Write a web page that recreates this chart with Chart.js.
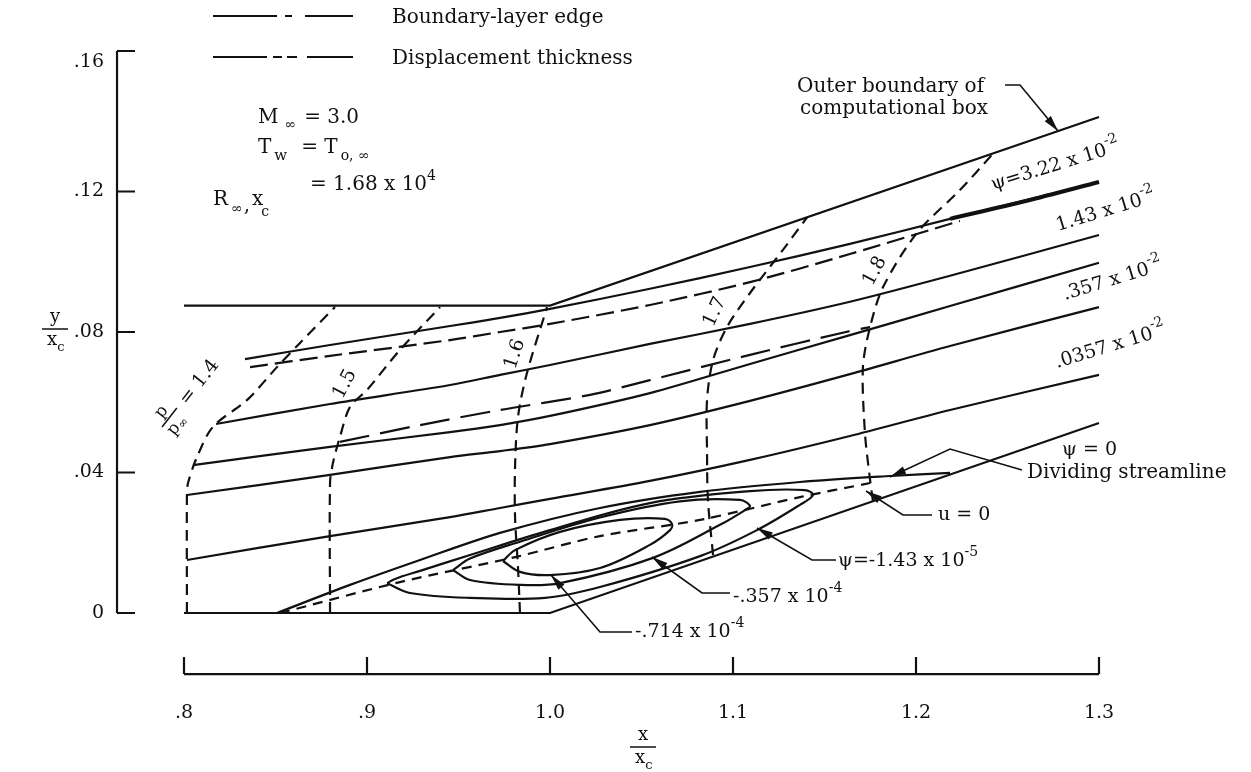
<!DOCTYPE html>
<html>
<head>
<meta charset="utf-8">
<title>Separated flow over a compression ramp</title>
<script src="https://cdn.jsdelivr.net/npm/chart.js@4.4.0/dist/chart.umd.min.js"></script>
<style>
  body { margin: 0; background: #fff; }
  #wrap { width: 1251px; height: 772px; }
</style>
</head>
<body>
<div id="wrap"><canvas id="flow-chart" width="1251" height="772"></canvas></div>
<script>
// ---- flow field, coordinates are (x/xc, y/xc) ----
const outerBoundary = [[0.8, 0.0875], [1.0, 0.0875], [1.3, 0.1412]];
const wallLine = [[0.8, 0], [1.0, 0], [1.3, 0.0541]];

// streamlines outside the bubble, from the top down
const psi322 = [[0.8333, 0.0723], [0.8798, 0.0763], [0.9454, 0.0817], [0.9727, 0.0840], [1.0, 0.0866], [1.0546, 0.0923], [1.1093, 0.0985], [1.1639, 0.1051], [1.2186, 0.1122], [1.30, 0.1227]];
const psi143 = [[0.8175, 0.0538], [0.8798, 0.0595], [0.9454, 0.0649], [0.9727, 0.0678], [1.0, 0.0706], [1.0546, 0.0766], [1.1093, 0.0823], [1.1639, 0.0886], [1.2186, 0.0960], [1.30, 0.1076]];
const psiMid = [[0.8049, 0.0421], [0.8798, 0.0473], [0.9454, 0.0515], [0.9727, 0.0535], [1.0, 0.0561], [1.0546, 0.0626], [1.1093, 0.0709], [1.1639, 0.0791], [1.2186, 0.0874], [1.30, 0.0997]];
const psi0357 = [[0.8016, 0.0336], [0.8798, 0.0393], [0.9454, 0.0444], [0.9727, 0.0461], [1.0, 0.0481], [1.0546, 0.0535], [1.1093, 0.0604], [1.1639, 0.0680], [1.2186, 0.0760], [1.30, 0.0871]];
const psi00357 = [[0.8016, 0.0151], [0.8798, 0.0219], [0.9454, 0.0273], [0.9727, 0.0299], [1.0, 0.0325], [1.0546, 0.0376], [1.1093, 0.0436], [1.1639, 0.0504], [1.2186, 0.0578], [1.30, 0.0678]];
const dividingStreamline = [[0.8508, 0], [0.8907, 0.0080], [0.929, 0.0151], [0.9727, 0.0228], [1.0273, 0.0299], [1.082, 0.0345], [1.1366, 0.0373], [1.1858, 0.0390], [1.2186, 0.0399]];

// boundary-layer edge and displacement thickness
const blEdge = [[0.8361, 0.0700], [0.8798, 0.0732], [0.9454, 0.0777], [0.9727, 0.0800], [1.0, 0.0823], [1.0546, 0.0877], [1.1093, 0.0942], [1.1639, 0.1022], [1.224, 0.1116]];
const blEdgeMerged = [[1.2186, 0.1122], [1.26, 0.1173], [1.30, 0.1227]];
const dispThickness = [[0.8852, 0.0487], [0.929, 0.0535], [0.9727, 0.0578], [1.0219, 0.0621], [1.0546, 0.0663], [1.1093, 0.0735], [1.1617, 0.0800], [1.1749, 0.0814]];

// reversed-flow region
const uZero = [[0.8525, 0], [0.918, 0.0088], [0.9809, 0.0159], [1.0273, 0.0219], [1.082, 0.0265], [1.1366, 0.0330], [1.1749, 0.0370]];
const bubble143 = [[0.911, 0.0085], [0.9235, 0.0057], [0.9563, 0.0043], [0.9973, 0.0043], [1.0273, 0.0074], [1.082, 0.0162], [1.1131, 0.0236], [1.1366, 0.0308], [1.1437, 0.0336], [1.1393, 0.0350], [1.1093, 0.0347], [1.0546, 0.0313], [1.0, 0.0236], [0.9563, 0.0165], [0.929, 0.0120], [0.9153, 0.0097], [0.911, 0.0085]];
const bubble357 = [[0.947, 0.0122], [0.9563, 0.0094], [0.9836, 0.0080], [1.0055, 0.0085], [1.0563, 0.0157], [1.0929, 0.0251], [1.1066, 0.0293], [1.1093, 0.0305], [1.1038, 0.0322], [1.071, 0.0318], [1.0273, 0.0272], [0.9836, 0.0203], [0.9563, 0.0155], [0.947, 0.0122]];
const bubble714 = [[0.9743, 0.0148], [0.9836, 0.0117], [1.0, 0.0108], [1.0273, 0.0128], [1.0546, 0.0194], [1.0656, 0.0236], [1.0667, 0.0253], [1.0628, 0.0268], [1.0383, 0.0265], [1.0055, 0.0231], [0.9809, 0.0179], [0.9743, 0.0148]];

// pressure ratio contours p/p_inf
const pr14 = [[0.8016, 0], [0.8016, 0.0336], [0.8022, 0.0370], [0.8071, 0.0444], [0.8158, 0.0530], [0.8344, 0.0606], [0.8508, 0.0700], [0.8634, 0.0769], [0.8825, 0.0871]];
const pr15 = [[0.8798, 0], [0.8798, 0.0370], [0.8814, 0.0427], [0.8852, 0.0501], [0.8907, 0.0587], [0.9000, 0.0635], [0.9180, 0.0749], [0.9399, 0.0871]];
const pr16 = [[0.9836, 0], [0.9825, 0.0131], [0.9809, 0.0273], [0.9809, 0.0416], [0.9825, 0.0558], [0.9874, 0.0683], [0.9984, 0.0871]];
const pr17 = [[1.0891, 0.0165], [1.0863, 0.0322], [1.0858, 0.0464], [1.0858, 0.0606], [1.0891, 0.0720], [1.0967, 0.0814], [1.1093, 0.0911], [1.1273, 0.1034], [1.1404, 0.1126]];
const pr18 = [[1.1765, 0.0318], [1.1749, 0.0379], [1.1721, 0.0513], [1.1710, 0.0700], [1.1749, 0.0814], [1.1820, 0.0928], [1.2005, 0.1082], [1.2240, 0.1204], [1.2421, 0.1308]];

const xTicks = [0.8, 0.9, 1.0, 1.1, 1.2, 1.3];
const xTickLabels = ['.8', '.9', '1.0', '1.1', '1.2', '1.3'];
const yTicks = [0, 0.04, 0.08, 0.12, 0.16];
const yTickLabels = ['0', '.04', '.08', '.12', '.16'];

const SERIF = '"DejaVu Serif", "Liberation Serif", serif';
const INK = '#111';

function line(points, extra) {
	return Object.assign({
		data: points.map(p => ({ x: p[0], y: p[1] })),
		showLine: true,
		borderColor: INK,
		borderWidth: 2.2,
		pointRadius: 0,
		tension: 0,
		fill: false,
		clip: false
	}, extra || {});
}

const datasets = [
	line(outerBoundary),
	line(wallLine),
	line(psi322, { tension: 0.3 }),
	line(psi143, { tension: 0.3 }),
	line(psiMid, { tension: 0.3 }),
	line(psi0357, { tension: 0.3 }),
	line(psi00357, { tension: 0.3 }),
	line(dividingStreamline, { tension: 0.3 }),
	line(blEdge, { tension: 0.3, borderDash: [18, 7] }),
	line(blEdgeMerged, { tension: 0.3, borderWidth: 4 }),
	line(dispThickness, { tension: 0.3, borderDash: [30, 11] }),
	line(uZero, { tension: 0.3, borderDash: [10, 7] }),
	line(bubble143, { tension: 0.35 }),
	line(bubble357, { tension: 0.35 }),
	line(bubble714, { tension: 0.35 }),
	line(pr14, { tension: 0.3, borderDash: [11, 7] }),
	line(pr15, { tension: 0.3, borderDash: [11, 7] }),
	line(pr16, { tension: 0.3, borderDash: [11, 7] }),
	line(pr17, { tension: 0.3, borderDash: [11, 7] }),
	line(pr18, { tension: 0.3, borderDash: [11, 7] })
];

// text made of runs (for sub/superscripts), optionally rotated
function runs(ctx, x, y, rot, parts) {
	ctx.save();
	ctx.translate(x, y);
	ctx.rotate(rot * Math.PI / 180);
	ctx.textAlign = 'left';
	ctx.textBaseline = 'alphabetic';
	let cx = 0;
	parts.forEach(p => {
		ctx.font = (p.size || 20) + 'px ' + SERIF;
		cx += (p.dx || 0);
		ctx.fillText(p.t, cx, p.dy || 0);
		cx += ctx.measureText(p.t).width;
	});
	ctx.restore();
}

function leader(ctx, pts) {
	ctx.beginPath();
	ctx.moveTo(pts[0][0], pts[0][1]);
	for (let i = 1; i < pts.length; i++) ctx.lineTo(pts[i][0], pts[i][1]);
	ctx.lineWidth = 1.6;
	ctx.stroke();
	// arrow head at the last point
	const [x1, y1] = pts[pts.length - 2], [x2, y2] = pts[pts.length - 1];
	const a = Math.atan2(y2 - y1, x2 - x1);
	ctx.beginPath();
	ctx.moveTo(x2, y2);
	ctx.lineTo(x2 - 16 * Math.cos(a) + 4 * Math.sin(a), y2 - 16 * Math.sin(a) - 4 * Math.cos(a));
	ctx.lineTo(x2 - 16 * Math.cos(a) - 4 * Math.sin(a), y2 - 16 * Math.sin(a) + 4 * Math.cos(a));
	ctx.closePath();
	ctx.fill();
}

function segs(ctx, y, list) {
	ctx.beginPath();
	list.forEach(s => { ctx.moveTo(s[0], y); ctx.lineTo(s[1], y); });
	ctx.lineWidth = 2.2;
	ctx.stroke();
}

function fraction(ctx, cx, top, num, den, sub) {
	ctx.font = '18px ' + SERIF;
	ctx.textAlign = 'center';
	ctx.fillText(num, cx, top);
	ctx.beginPath();
	ctx.moveTo(cx - 13, top + 7);
	ctx.lineTo(cx + 13, top + 7);
	ctx.lineWidth = 1.5;
	ctx.stroke();
	ctx.fillText(den, cx - 3, top + 23);
	ctx.font = '13px ' + SERIF;
	ctx.fillText(sub, cx + 6, top + 29);
	ctx.textAlign = 'left';
}

const paperPlugin = {
	id: 'paperLayout',
	afterDatasetsDraw(chart) {
		const ctx = chart.ctx;
		const xs = chart.scales.x, ys = chart.scales.y;
		ctx.save();
		ctx.strokeStyle = INK;
		ctx.fillStyle = INK;
		ctx.lineCap = 'butt';

		// y axis, offset to the left of the field
		const ax = xs.getPixelForValue(0.7634);
		ctx.lineWidth = 2.2;
		ctx.beginPath();
		ctx.moveTo(ax, ys.getPixelForValue(0.16));
		ctx.lineTo(ax, ys.getPixelForValue(0));
		yTicks.forEach(v => {
			const py = ys.getPixelForValue(v);
			ctx.moveTo(ax, py);
			ctx.lineTo(ax + 18, py);
		});
		ctx.stroke();
		ctx.font = '19px ' + SERIF;
		ctx.textAlign = 'right';
		ctx.textBaseline = 'middle';
		yTicks.forEach((v, i) => {
			const py = ys.getPixelForValue(v) + (v === 0.16 ? 11 : 0);
			ctx.fillText(yTickLabels[i], ax - 13, py);
		});

		// x axis, drawn below the wall
		const ay = ys.getPixelForValue(-0.0174);
		ctx.beginPath();
		ctx.moveTo(xs.getPixelForValue(0.8), ay);
		ctx.lineTo(xs.getPixelForValue(1.3), ay);
		xTicks.forEach(v => {
			const px = xs.getPixelForValue(v);
			ctx.moveTo(px, ay);
			ctx.lineTo(px, ay - 17);
		});
		ctx.stroke();
		ctx.textAlign = 'center';
		ctx.textBaseline = 'alphabetic';
		xTicks.forEach((v, i) => ctx.fillText(xTickLabels[i], xs.getPixelForValue(v), 718));

		// axis titles
		ctx.textBaseline = 'alphabetic';
		fraction(ctx, 643, 740, 'x', 'x', 'c');
		fraction(ctx, 55, 322, 'y', 'x', 'c');

		// key
		segs(ctx, 16, [[213, 277], [285, 292], [305, 353]]);
		segs(ctx, 57, [[213, 267], [273, 282], [287, 297], [307, 353]]);
		runs(ctx, 392, 23, 0, [{ t: 'Boundary-layer edge' }]);
		runs(ctx, 392, 64, 0, [{ t: 'Displacement thickness' }]);

		// flow conditions
		runs(ctx, 258, 123, 0, [{ t: 'M' }, { t: '∞', size: 14, dx: 6, dy: 6 }, { t: '= 3.0', dx: 8 }]);
		runs(ctx, 258, 153, 0, [{ t: 'T' }, { t: 'w', size: 15, dx: 3, dy: 7 }, { t: '= T', dx: 14 }, { t: 'o, ∞', size: 14, dx: 3, dy: 7 }]);
		runs(ctx, 213, 205, 0, [{ t: 'R' }, { t: '∞', size: 14, dx: 3, dy: 8 }, { t: ',', dx: 1, dy: 6 }, { t: 'x', dx: 2 }, { t: 'c', size: 14, dx: -2, dy: 11 }]);
		runs(ctx, 310, 190, 0, [{ t: '= 1.68 x 10' }, { t: '4', size: 14, dy: -10 }]);

		// pressure ratio labels
		ctx.save();
		ctx.translate(166, 430);
		ctx.rotate(-52 * Math.PI / 180);
		ctx.font = '17px ' + SERIF;
		ctx.fillText('p', 6, -10);
		ctx.beginPath();
		ctx.moveTo(0, -5);
		ctx.lineTo(24, -5);
		ctx.lineWidth = 1.5;
		ctx.stroke();
		ctx.fillText('p', 0, 10);
		ctx.font = '12px ' + SERIF;
		ctx.fillText('∞', 11, 13);
		ctx.font = '19px ' + SERIF;
		ctx.fillText('= 1.4', 32, 2);
		ctx.restore();

		[['1.5', 345, 384, -62], ['1.6', 515, 354, -72], ['1.7', 715, 312, -65], ['1.8', 875, 271, -62]].forEach(l => {
			ctx.save();
			ctx.translate(l[1], l[2]);
			ctx.rotate(l[3] * Math.PI / 180);
			ctx.font = '19px ' + SERIF;
			ctx.textAlign = 'center';
			ctx.textBaseline = 'middle';
			ctx.fillText(l[0], 0, 0);
			ctx.restore();
		});

		// stream function labels
		runs(ctx, 993, 190, -17, [{ t: 'ψ=3.22 x 10', size: 19 }, { t: '-2', size: 14, dy: -10 }]);
		runs(ctx, 1058, 231, -17, [{ t: '1.43 x 10', size: 19 }, { t: '-2', size: 14, dy: -10 }]);
		runs(ctx, 1065, 300, -17, [{ t: '.357 x 10', size: 19 }, { t: '-2', size: 14, dy: -10 }]);
		runs(ctx, 1057, 368, -17, [{ t: '.0357 x 10', size: 19 }, { t: '-2', size: 14, dy: -10 }]);

		runs(ctx, 797, 92, 0, [{ t: 'Outer boundary of' }]);
		runs(ctx, 800, 114, 0, [{ t: 'computational box' }]);
		leader(ctx, [[1005, 85], [1020, 85], [1058, 131]]);

		runs(ctx, 1062, 455, 0, [{ t: 'ψ = 0', size: 19 }]);
		runs(ctx, 1027, 478, 0, [{ t: 'Dividing streamline' }]);
		leader(ctx, [[1022, 470], [950, 449], [890, 477]]);

		runs(ctx, 938, 520, 0, [{ t: 'u = 0', size: 19 }]);
		leader(ctx, [[932, 515], [903, 515], [866, 491]]);

		runs(ctx, 838, 566, 0, [{ t: 'ψ=-1.43 x 10', size: 19 }, { t: '-5', size: 14, dy: -10 }]);
		leader(ctx, [[836, 560], [812, 560], [757, 528]]);
		runs(ctx, 733, 602, 0, [{ t: '-.357 x 10', size: 19 }, { t: '-4', size: 14, dy: -10 }]);
		leader(ctx, [[730, 593], [702, 593], [652, 557]]);
		runs(ctx, 635, 637, 0, [{ t: '-.714 x 10', size: 19 }, { t: '-4', size: 14, dy: -10 }]);
		leader(ctx, [[632, 632], [600, 632], [551, 575]]);

		ctx.restore();
	}
};

const ctx = document.getElementById('flow-chart').getContext('2d');
window.flowChart = new Chart(ctx, {
	type: 'scatter',
	data: { datasets: datasets },
	options: {
		responsive: false,
		animation: false,
		events: [],
		layout: { padding: { left: 184, right: 152, top: 51, bottom: 159 } },
		scales: {
			x: { type: 'linear', min: 0.8, max: 1.3, display: false },
			y: { type: 'linear', min: 0, max: 0.16, display: false }
		},
		plugins: {
			legend: { display: false },
			tooltip: { enabled: false }
		}
	},
	plugins: [paperPlugin]
});
</script>
</body>
</html>
